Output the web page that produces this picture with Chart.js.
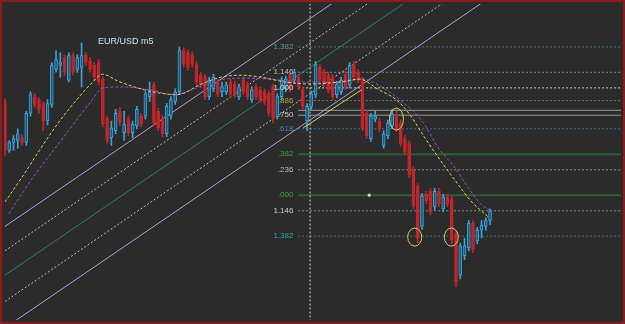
<!DOCTYPE html>
<html>
<head>
<meta charset="utf-8">
<script src="https://cdn.jsdelivr.net/npm/chart.js@4"></script>
<style>
  html, body { margin: 0; padding: 0; background: #2b2b2b; }
  canvas { display: block; }
</style>
</head>
<body>
<canvas id="eurusd" width="625" height="324"></canvas>
<script>
// EUR/USD m5 candles
const candleOpen = [1.3224,1.3174,1.3182,1.3184,1.3187,1.3182,1.3212,1.3229,1.3226,1.3222,1.3204,1.3221,1.3257,1.3261,1.3269,1.3246,1.3271,1.3257,1.3259,1.3272,1.3266,1.3261,1.3264,1.3247,1.3207,1.3187,1.3194,1.3214,1.3192,1.3206,1.3192,1.3199,1.3209,1.3209,1.3229,1.3241,1.3214,1.3207,1.3191,1.3209,1.3224,1.3234,1.3276,1.3274,1.3272,1.3262,1.3251,1.3249,1.3229,1.3237,1.3244,1.3234,1.3234,1.3244,1.3242,1.3229,1.3246,1.3241,1.3226,1.3239,1.3236,1.3234,1.3232,1.3239,1.3209,1.3229,1.3237,1.3252,1.3246,1.3249,1.3236,1.3204,1.3219,1.3231,1.3259,1.3254,1.3251,1.3249,1.3231,1.3234,1.3252,1.3241,1.3262,1.3254,1.3246,1.3212,1.3186,1.3206,1.3204,1.3179,1.3189,1.3199,1.3211,1.3202,1.3186,1.3181,1.3154,1.3137,1.3096,1.3129,1.3132,1.3116,1.3132,1.3114,1.3126,1.3124,1.3089,1.3046,1.3066,1.3074,1.3099,1.3081,1.3092,1.3096,1.3102];
const candleHigh = [1.3227,1.3184,1.3189,1.3196,1.3190,1.3214,1.3234,1.3232,1.3228,1.3224,1.3226,1.3264,1.3276,1.3274,1.3272,1.3274,1.3274,1.3272,1.3284,1.3274,1.3269,1.3264,1.3267,1.3249,1.3209,1.3204,1.3216,1.3218,1.3214,1.3209,1.3204,1.3219,1.3212,1.3234,1.3244,1.3244,1.3217,1.3210,1.3222,1.3229,1.3237,1.3280,1.3279,1.3277,1.3275,1.3265,1.3254,1.3252,1.3249,1.3252,1.3247,1.3244,1.3244,1.3247,1.3245,1.3242,1.3249,1.3244,1.3239,1.3242,1.3239,1.3237,1.3235,1.3242,1.3232,1.3249,1.3250,1.3255,1.3257,1.3252,1.3239,1.3222,1.3235,1.3265,1.3262,1.3257,1.3254,1.3252,1.3245,1.3249,1.3255,1.3264,1.3265,1.3257,1.3249,1.3215,1.3212,1.3214,1.3207,1.3194,1.3205,1.3216,1.3214,1.3205,1.3189,1.3184,1.3157,1.3140,1.3130,1.3132,1.3135,1.3135,1.3135,1.3129,1.3129,1.3127,1.3092,1.3079,1.3084,1.3102,1.3102,1.3095,1.3102,1.3105,1.3114];
const candleLow = [1.3168,1.3172,1.3174,1.3176,1.3179,1.3179,1.3209,1.3218,1.3212,1.3194,1.3200,1.3218,1.3254,1.3249,1.3251,1.3244,1.3251,1.3254,1.3239,1.3261,1.3254,1.3246,1.3241,1.3198,1.3181,1.3179,1.3191,1.3199,1.3184,1.3189,1.3187,1.3196,1.3198,1.3206,1.3224,1.3199,1.3194,1.3188,1.3188,1.3206,1.3221,1.3231,1.3259,1.3256,1.3259,1.3241,1.3238,1.3226,1.3226,1.3234,1.3229,1.3229,1.3231,1.3229,1.3228,1.3226,1.3231,1.3226,1.3223,1.3226,1.3223,1.3221,1.3209,1.3202,1.3206,1.3226,1.3234,1.3234,1.3243,1.3236,1.3216,1.3194,1.3216,1.3228,1.3243,1.3239,1.3233,1.3226,1.3228,1.3231,1.3236,1.3238,1.3246,1.3243,1.3194,1.3186,1.3183,1.3203,1.3193,1.3176,1.3186,1.3196,1.3193,1.3178,1.3169,1.3146,1.3114,1.3079,1.3093,1.3119,1.3108,1.3113,1.3116,1.3111,1.3116,1.3078,1.3034,1.3042,1.3062,1.3071,1.3069,1.3078,1.3084,1.3092,1.3098];
const candleClose = [1.3174,1.3182,1.3186,1.3191,1.3182,1.3212,1.3231,1.3221,1.3216,1.3204,1.3222,1.3261,1.3267,1.3264,1.3254,1.3271,1.3254,1.3269,1.3271,1.3264,1.3257,1.3249,1.3244,1.3201,1.3184,1.3197,1.3212,1.3202,1.3201,1.3192,1.3201,1.3216,1.3201,1.3232,1.3234,1.3202,1.3197,1.3191,1.3219,1.3226,1.3234,1.3277,1.3262,1.3259,1.3262,1.3244,1.3241,1.3229,1.3246,1.3249,1.3232,1.3239,1.3241,1.3232,1.3231,1.3239,1.3234,1.3229,1.3236,1.3229,1.3226,1.3224,1.3212,1.3207,1.3229,1.3246,1.3247,1.3237,1.3254,1.3239,1.3219,1.3219,1.3232,1.3262,1.3246,1.3242,1.3236,1.3229,1.3242,1.3246,1.3239,1.3261,1.3249,1.3246,1.3197,1.3189,1.3209,1.3209,1.3196,1.3191,1.3202,1.3211,1.3196,1.3181,1.3172,1.3149,1.3117,1.3084,1.3127,1.3122,1.3111,1.3132,1.3119,1.3126,1.3119,1.3082,1.3039,1.3076,1.3076,1.3099,1.3072,1.3092,1.3097,1.3102,1.3112];

// moving averages (bar index, price)
const fastMaX = [0,4.4,8.1,12.5,16.5,20.2,23.0,26.5,31.1,34.6,40.4,46.2,50.8,55.5,60.1,65.9,71.7,78.7,83.3,87.9,91.9,94.9,98.8,102.6,106.5,109.5,113.5];
const fastMaY = [1.3121,1.3149,1.3174,1.3202,1.3224,1.3242,1.3252,1.3245,1.3238,1.3234,1.3231,1.3242,1.3249,1.3251,1.3249,1.3244,1.3242,1.3244,1.3247,1.3236,1.3226,1.3212,1.3186,1.3162,1.3139,1.3122,1.3106];
const slowMaX = [0.9,6.7,13.7,20.2,23.0,27.6,33.9,39.9,44.5,48.5,55.5,62.4,69.4,78.7,84.0,89.6,93.3,96.5,98.8,101.9,105.8,108.8,111.8,114.2];
const slowMaY = [1.3109,1.3147,1.3187,1.3224,1.3238,1.3239,1.3236,1.3231,1.3237,1.3244,1.3248,1.3247,1.3244,1.3244,1.3247,1.3236,1.3224,1.3212,1.3199,1.3176,1.3156,1.3136,1.3119,1.3112];

// fibonacci levels
const fibLabels = ['1.382','1.146','1.000','.886','','.750','.618','.382','.236','.000','1.146','1.382'];
const fibPrices = [1.3280,1.3254,1.3238,1.3225,1.3215,1.3210,1.3196,1.3170,1.3154,1.3128,1.3112,1.3086];

// parallel channel lines: price at bar 0 and at bar 145
const channelStart = [1.3096,1.3071,1.3046,1.3019,1.2992];
const channelEnd = [1.3527,1.3502,1.3477,1.3450,1.3423];

// short trend line, vertical marker, circled bars
const trendX = [70.1, 83.8];
const trendY = [1.3197, 1.3236];
const markerX = 71.7;
const circleX = [92.0, 96.3, 104.9];
const circleY = [1.3206, 1.3085, 1.3085];
const dotX = 85.6, dotY = 1.3128;

const xMin = -0.232, xMax = 144.78;
const yMin = 1.3000, yMax = 1.3324;
const fibStartX = 68.9, fibLabelX = 67.8;

const fibLineColors = ['#4f7c86','#8a8a8a','#d8d8d8','#77775a','#9a9a9a','#9a9a9a','#3d6f9c','#2f5f30','#8a8a8a','#2f5f30','#8a8a8a','#3c7a84'];
const fibTextColors = ['#5a9aa5','#bbbbbb','#dddddd','#a8a838','','#cccccc','#4a84c0','#3fa040','#bbbbbb','#3fa040','#cccccc','#3aa0a8'];
const fibSolid = [false,false,false,false,true,true,false,true,false,true,false,false];
const channelColors = ['#a9a3dc','#bdbdbd','#2e7d7a','#bdbdbd','#a9a3dc'];
const channelDashed = [false,true,false,true,false];

const idx = candleOpen.map((_, i) => i);
const bull = idx.map(i => candleClose[i] >= candleOpen[i]);
const upColor = '#3ba3d6', downColor = '#c0262c';

const datasets = [];

fibPrices.forEach((p, k) => {
  datasets.push({
    type: 'line',
    data: [{x: fibStartX, y: p}, {x: xMax, y: p}],
    borderColor: fibLineColors[k],
    borderWidth: (k === 7 || k === 9) ? 2 : 1,
    borderDash: fibSolid[k] ? [] : [2, 2],
    pointRadius: 0,
    order: 10
  });
});

channelStart.forEach((p, k) => {
  datasets.push({
    type: 'line',
    data: [{x: 0, y: p}, {x: 145, y: channelEnd[k]}],
    borderColor: channelColors[k],
    borderWidth: 1,
    borderDash: channelDashed[k] ? [2, 2] : [],
    pointRadius: 0,
    order: 10
  });
});

datasets.push({
  type: 'line',
  data: [{x: markerX, y: 1.29}, {x: markerX, y: 1.34}],
  borderColor: '#d0d0d0',
  borderWidth: 1,
  borderDash: [2, 2],
  pointRadius: 0,
  order: 9
});

// wicks
datasets.push({
  type: 'bar',
  data: idx.map(i => ({x: i, y: [candleLow[i], candleHigh[i]]})),
  backgroundColor: idx.map(i => bull[i] ? upColor : downColor),
  barThickness: 1,
  grouped: false,
  borderWidth: 0,
  order: 6
});
// bodies
datasets.push({
  type: 'bar',
  data: idx.map(i => ({x: i, y: [candleOpen[i], candleClose[i]]})),
  backgroundColor: idx.map(i => bull[i] ? '#1f5a7a' : downColor),
  borderColor: idx.map(i => bull[i] ? upColor : downColor),
  borderWidth: 1,
  borderSkipped: false,
  barThickness: 3,
  minBarLength: 1,
  grouped: false,
  order: 5
});

datasets.push({
  type: 'line',
  data: trendX.map((x, k) => ({x, y: trendY[k]})),
  borderColor: '#d8d070',
  borderWidth: 1,
  pointRadius: 0,
  order: 3
});

datasets.push({
  type: 'line',
  data: slowMaX.map((x, k) => ({x, y: slowMaY[k]})),
  borderColor: '#9a52b8',
  borderWidth: 1,
  borderDash: [3, 2],
  cubicInterpolationMode: 'monotone',
  pointRadius: 0,
  order: 2
});
datasets.push({
  type: 'line',
  data: fastMaX.map((x, k) => ({x, y: fastMaY[k]})),
  borderColor: '#dcd46a',
  borderWidth: 1,
  borderDash: [3, 2],
  cubicInterpolationMode: 'monotone',
  pointRadius: 0,
  order: 1
});

datasets.push({
  type: 'scatter',
  data: [{x: dotX, y: dotY}],
  pointStyle: 'rect',
  pointRadius: 2,
  backgroundColor: '#dddddd',
  borderWidth: 0,
  order: 1
});

const decor = {
  id: 'decor',
  beforeDraw(chart) {
    const ctx = chart.ctx;
    ctx.save();
    ctx.fillStyle = '#2b2b2b';
    ctx.fillRect(0, 0, chart.width, chart.height);
    ctx.restore();
  },
  afterDatasetsDraw(chart) {
    const ctx = chart.ctx;
    const xs = chart.scales.x, ys = chart.scales.y;
    ctx.save();
    // level labels
    ctx.font = '8px "Liberation Sans"';
    ctx.textAlign = 'right';
    ctx.textBaseline = 'middle';
    fibLabels.forEach((t, k) => {
      if (!t) return;
      ctx.fillStyle = fibTextColors[k];
      ctx.fillText(t, xs.getPixelForValue(fibLabelX), ys.getPixelForValue(fibPrices[k]));
    });
    // circled bars
    ctx.strokeStyle = '#d8d060';
    ctx.lineWidth = 1;
    circleX.forEach((x, k) => {
      ctx.beginPath();
      ctx.ellipse(xs.getPixelForValue(x), ys.getPixelForValue(circleY[k]), 7, k === 0 ? 11 : 9, 0, 0, Math.PI * 2);
      ctx.stroke();
    });
    // title
    ctx.font = '9px "Liberation Sans"';
    ctx.textAlign = 'left';
    ctx.fillStyle = '#c4e6f0';
    ctx.fillText('EUR/USD m5', 98, 42);
    // frame
    ctx.strokeStyle = '#8c1b1b';
    ctx.lineWidth = 2;
    ctx.strokeRect(1, 1, chart.width - 2, chart.height - 2);
    ctx.restore();
  }
};

new Chart(document.getElementById('eurusd'), {
  type: 'bar',
  data: { datasets },
  options: {
    responsive: false,
    animation: false,
    devicePixelRatio: 1,
    layout: { padding: 0 },
    plugins: {
      legend: { display: false },
      tooltip: { enabled: false }
    },
    scales: {
      x: { type: 'linear', min: xMin, max: xMax, offset: false, display: false },
      y: { type: 'linear', min: yMin, max: yMax, display: false }
    }
  },
  plugins: [decor]
});
</script>
</body>
</html>
